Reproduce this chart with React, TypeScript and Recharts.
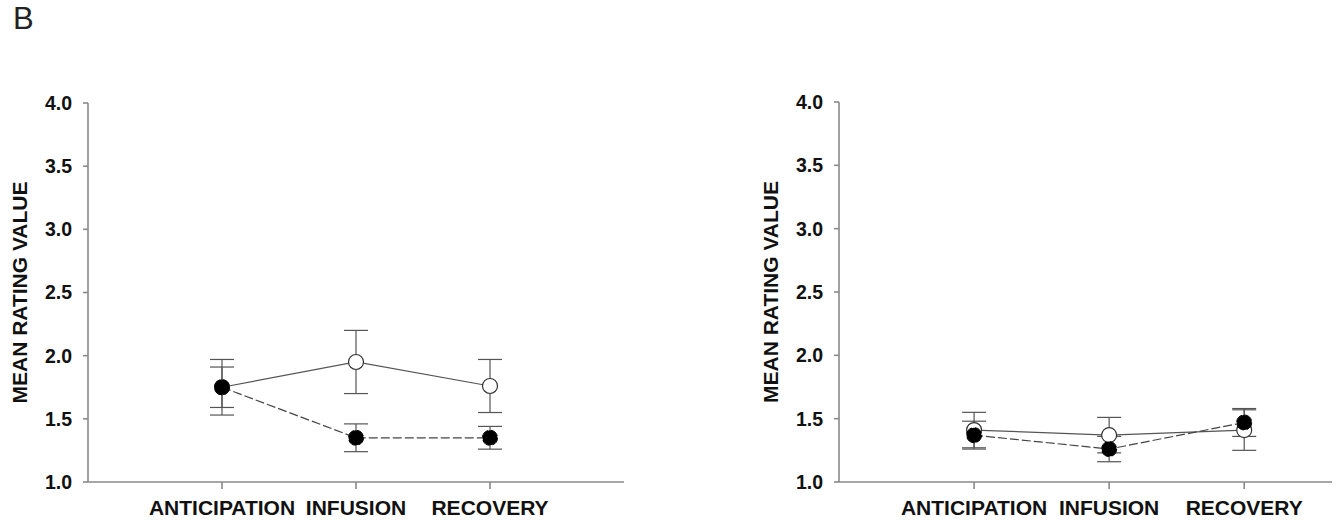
import { LineChart, Line, XAxis, YAxis, ErrorBar } from "recharts"

const phases = ["ANTICIPATION", "INFUSION", "RECOVERY"]
const yTicks = [1.0, 1.5, 2.0, 2.5, 3.0, 3.5, 4.0]

// left panel
const leftOpen = [1.75, 1.95, 1.76]
const leftOpenErr = [0.22, 0.25, 0.21]
const leftFilled = [1.75, 1.35, 1.35]
const leftFilledErr = [0.16, 0.11, 0.09]

// right panel
const rightOpen = [1.41, 1.37, 1.41]
const rightOpenErr = [0.14, 0.14, 0.16]
const rightFilled = [1.37, 1.26, 1.47]
const rightFilledErr = [0.11, 0.1, 0.11]

const font = "'Liberation Sans', Arial, sans-serif"

function buildRows(open: number[], openErr: number[], filled: number[], filledErr: number[]) {
  return phases.map((phase, i) => ({
    pos: i + 1,
    phase,
    open: open[i],
    openErr: openErr[i],
    filled: filled[i],
    filledErr: filledErr[i],
  }))
}

const YLabel = (props: any) => {
  const vb = props.viewBox || { x: 0, y: 0, width: 0, height: 0 }
  const x = vb.x + 19
  const y = vb.y + vb.height / 2
  return (
    <text
      x={x}
      y={y}
      transform={`rotate(-90, ${x}, ${y})`}
      textAnchor="middle"
      dominantBaseline="central"
      fontFamily={font}
      fontSize={21}
      fontWeight="bold"
      fill="#111"
    >
      MEAN RATING VALUE
    </text>
  )
}

type PanelProps = {
  rows: ReturnType<typeof buildRows>
  width: number
  top: number
  right: number
  xMax: number
}

function Panel({ rows, width, top, right, xMax }: PanelProps) {
  return (
    <LineChart
      width={width}
      height={527}
      data={rows}
      margin={{ top, right, bottom: 0, left: 0 }}
    >
      <XAxis
        type="number"
        dataKey="pos"
        domain={[0, xMax]}
        ticks={[1, 2, 3]}
        interval={0}
        tickFormatter={(v) => phases[v - 1]}
        height={45}
        tickSize={7}
        tickMargin={11}
        stroke="#8a8a8a"
        strokeWidth={1.6}
        tick={{ fill: "#111", fontSize: 21, fontWeight: "bold", fontFamily: font }}
      />
      <YAxis
        type="number"
        domain={[1, 4]}
        ticks={yTicks}
        interval={0}
        width={88}
        tickSize={5}
        tickMargin={11}
        stroke="#8a8a8a"
        strokeWidth={1.6}
        tickFormatter={(v) => v.toFixed(1)}
        tick={{ fill: "#111", fontSize: 19.5, fontWeight: "bold", fontFamily: font }}
        label={<YLabel />}
      />
      <Line
        dataKey="open"
        stroke="#555"
        strokeWidth={1.2}
        dot={{ r: 7.5, fill: "#fff", stroke: "#333", strokeWidth: 1.2 }}
        activeDot={false}
        isAnimationActive={false}
      >
        <ErrorBar dataKey="openErr" direction="y" width={12} stroke="#555" strokeWidth={1.2} />
      </Line>
      <Line
        dataKey="filled"
        stroke="#444"
        strokeWidth={1.2}
        strokeDasharray="9 3"
        dot={{ r: 7.5, fill: "#000", stroke: "#000", strokeWidth: 1 }}
        activeDot={false}
        isAnimationActive={false}
      >
        <ErrorBar dataKey="filledErr" direction="y" width={12} stroke="#555" strokeWidth={1.2} />
      </Line>
    </LineChart>
  )
}

export default function App() {
  const leftRows = buildRows(leftOpen, leftOpenErr, leftFilled, leftFilledErr)
  const rightRows = buildRows(rightOpen, rightOpenErr, rightFilled, rightFilledErr)
  return (
    <div
      style={{
        position: "absolute",
        left: 0,
        top: 0,
        width: 1339,
        height: 527,
        background: "#fff",
        overflow: "hidden",
      }}
    >
      <div
        style={{
          position: "absolute",
          left: 13,
          top: 4,
          fontFamily: font,
          fontSize: 31,
          lineHeight: "30px",
          color: "#222",
        }}
      >
        B
      </div>
      <div style={{ position: "absolute", left: 0, top: 0 }}>
        <Panel rows={leftRows} width={660} top={103} right={36} xMax={4} />
      </div>
      <div style={{ position: "absolute", left: 751, top: 0 }}>
        <Panel rows={rightRows} width={588} top={102} right={7} xMax={3.65} />
      </div>
    </div>
  )
}
